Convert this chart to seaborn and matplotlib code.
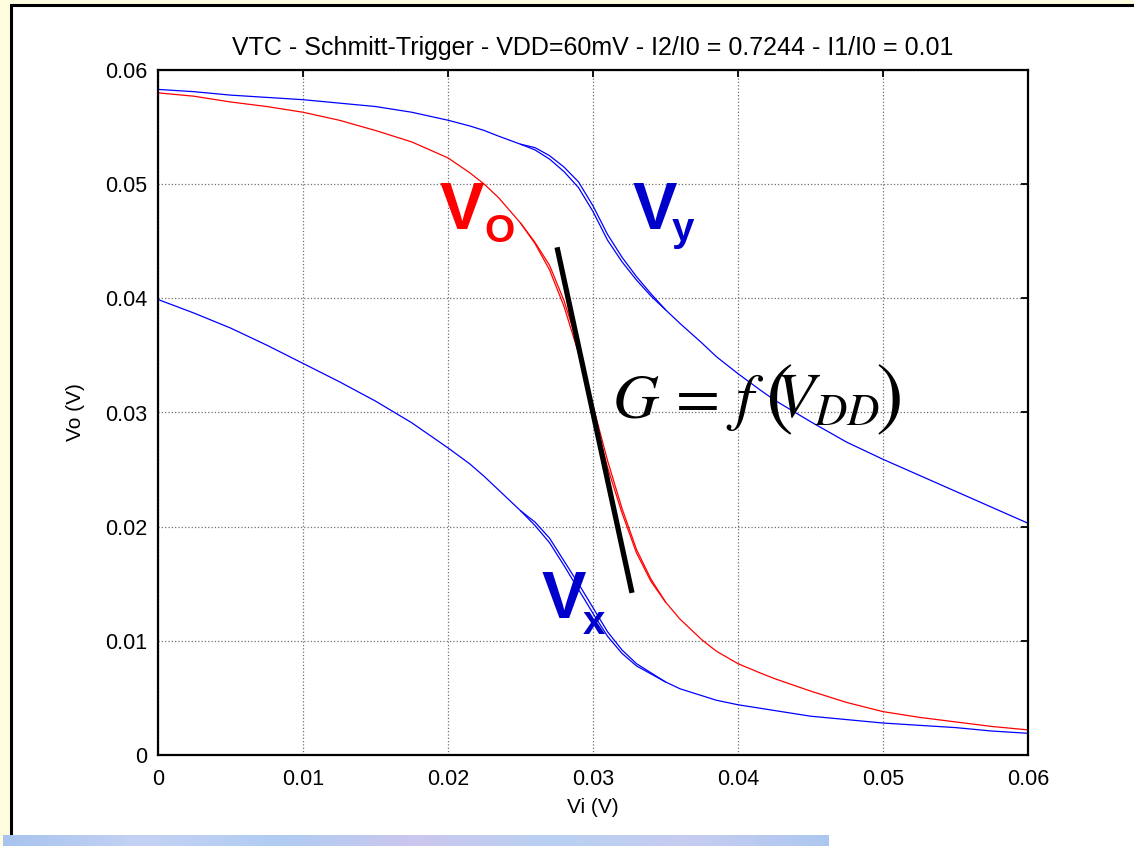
import numpy as np
import pandas as pd
import seaborn as sns
import matplotlib
matplotlib.use("Agg")
import matplotlib.pyplot as plt
from matplotlib.patches import Rectangle
from matplotlib.colors import LinearSegmentedColormap

# ---- data: input sweep and the three node voltages (V) ----
vi = [0, 0.0025, 0.005, 0.0075, 0.01, 0.0125, 0.015, 0.0175, 0.02, 0.0215,
      0.0225, 0.0235, 0.025, 0.026, 0.027, 0.028, 0.029, 0.030, 0.031, 0.032,
      0.033, 0.034, 0.035, 0.036, 0.0375, 0.0385, 0.04, 0.0415, 0.0425, 0.045,
      0.0475, 0.05, 0.0525, 0.055, 0.0575, 0.06]

vo = [0.0580, 0.0577, 0.0572, 0.0568, 0.0563, 0.0556, 0.0547, 0.0537, 0.0523, 0.0510,
      0.0500, 0.0488, 0.0466, 0.0448, 0.0425, 0.0393, 0.0352, 0.0300, 0.0252, 0.0212,
      0.0177, 0.0152, 0.0134, 0.0119, 0.0101, 0.0091, 0.0080, 0.0072, 0.0067, 0.0056,
      0.0046, 0.0038, 0.0033, 0.0029, 0.0025, 0.0022]

vy = [0.0583, 0.0581, 0.0578, 0.0576, 0.0574, 0.0571, 0.0568, 0.0563, 0.0556, 0.0551,
      0.0547, 0.0542, 0.0535, 0.0530, 0.0522, 0.0511, 0.0497, 0.0476, 0.0451, 0.0432,
      0.0416, 0.0402, 0.0390, 0.0378, 0.0361, 0.0349, 0.0334, 0.0320, 0.0311, 0.0292,
      0.0274, 0.0259, 0.0245, 0.0231, 0.0217, 0.0203]

vx = [0.0399, 0.0387, 0.0374, 0.0359, 0.0343, 0.0327, 0.0310, 0.0291, 0.0269, 0.0255,
      0.0244, 0.0232, 0.0214, 0.0201, 0.0186, 0.0166, 0.0145, 0.0124, 0.0104, 0.0089,
      0.0078, 0.0071, 0.0064, 0.0058, 0.0052, 0.0048, 0.0044, 0.0041, 0.0039, 0.0034,
      0.0031, 0.0028, 0.0026, 0.0024, 0.0021, 0.0019]

# reverse sweep, only where it separates from the forward one
vi_back = [0.025, 0.026, 0.027, 0.028, 0.029, 0.030, 0.031, 0.032, 0.033, 0.034, 0.035]
vo_back = [0.0466, 0.0449, 0.0429, 0.0398, 0.0358, 0.0306, 0.0258, 0.0216, 0.0180, 0.0154, 0.0134]
vy_back = [0.0535, 0.0532, 0.0525, 0.0515, 0.0502, 0.0481, 0.0456, 0.0436, 0.0419, 0.0404, 0.0390]
vx_back = [0.0214, 0.0204, 0.0190, 0.0170, 0.0150, 0.0129, 0.0108, 0.0092, 0.0080, 0.0072, 0.0064]

# tangent at the switching point (gain)
gain_x = [0.02752, 0.03269]
gain_y = [0.04447, 0.0142]

x_ticks = [0, 0.01, 0.02, 0.03, 0.04, 0.05, 0.06]
y_ticks = [0, 0.01, 0.02, 0.03, 0.04, 0.05, 0.06]
tick_labels = ["0", "0.01", "0.02", "0.03", "0.04", "0.05", "0.06"]

title = "VTC - Schmitt-Trigger - VDD=60mV - I2/I0 = 0.7244 - I1/I0 = 0.01"

# ---- style ----
sns.set_theme(style="white")
plt.rcParams["font.family"] = ["Liberation Sans", "DejaVu Sans"]
plt.rcParams["mathtext.fontset"] = "stix"

W, H = 1134, 846
fig = plt.figure(figsize=(W / 100, H / 100), dpi=100)
fig.patch.set_facecolor("#FFFDE0")

# white slide panel with black frame, kept behind everything else
panel = Rectangle((11 / W, -0.05), 1.05, (846 - 5) / H + 0.05,
                  transform=fig.transFigure, facecolor="white",
                  edgecolor="black", linewidth=2.2, zorder=-10)
fig.patches.append(panel)

# blue strip along the bottom
strip = fig.add_axes([3 / W, 0, 825 / W, 11 / H], zorder=5)
strip_cmap = LinearSegmentedColormap.from_list(
    "strip", ["#A8C4EE", "#C4D2F4", "#B0CCF2", "#CBC6EE", "#B8D0F2", "#C6CCF0", "#ADC8F0"])
strip.imshow(np.linspace(0, 1, 200)[None, :], aspect="auto", cmap=strip_cmap)
strip.set_axis_off()

ax = fig.add_axes([158 / W, (H - 755) / H, 870 / W, 685 / H], zorder=1)
ax.set_facecolor("white")

forward = pd.DataFrame({"Vi": vi, "Vo": vo, "Vy": vy, "Vx": vx})
backward = pd.DataFrame({"Vi": vi_back, "Vo": vo_back, "Vy": vy_back, "Vx": vx_back})

line_kw = dict(estimator=None, sort=False, linewidth=0.9, ax=ax)
for df in (forward, backward):
    sns.lineplot(data=df, x="Vi", y="Vy", color="#0000FF", **line_kw)
    sns.lineplot(data=df, x="Vi", y="Vx", color="#0000FF", **line_kw)
    sns.lineplot(data=df, x="Vi", y="Vo", color="#FF0000", **line_kw)

ax.plot(gain_x, gain_y, color="black", linewidth=3.8, solid_capstyle="butt")

# curve labels
ax.text(0.01945, 0.0461, "V", color="#FF0000", fontsize=48, fontweight="bold")
ax.text(0.0225, 0.0449, "O", color="#FF0000", fontsize=28, fontweight="bold")
ax.text(0.0327, 0.0461, "V", color="#0000CC", fontsize=48, fontweight="bold")
ax.text(0.0354, 0.0450, "y", color="#0000CC", fontsize=29, fontweight="bold")
ax.text(0.02648, 0.0120, "V", color="#0000CC", fontsize=48, fontweight="bold")
ax.text(0.0293, 0.0106, "x", color="#0000CC", fontsize=29, fontweight="bold")

# gain expression, with tall brackets
ax.text(0.03131, 0.02952, r"$G\,=\,f$", color="black", fontsize=46)
ax.text(0.04186, 0.0293, r"$($", color="black", fontsize=60)
ax.text(0.04255, 0.02952, r"$V_{DD}$", color="black", fontsize=46)
ax.text(0.04945, 0.0293, r"$)$", color="black", fontsize=60)

ax.set_xlim(0, 0.06)
ax.set_ylim(0, 0.06)
ax.set_xticks(x_ticks)
ax.set_yticks(y_ticks)
ax.set_xticklabels(tick_labels)
ax.set_yticklabels(tick_labels)
ax.tick_params(direction="in", length=5, width=1.3, top=True, right=True,
               labelsize=15.5, colors="black", pad=8)
ax.tick_params(axis="x", pad=10)
ax.grid(True, linestyle=":", color="#707070", linewidth=0.9)
for s in ax.spines.values():
    s.set_color("black")
    s.set_linewidth(1.6)

ax.set_xlabel("Vi (V)", fontsize=15, color="black", labelpad=6)
ax.set_ylabel("Vo (V)", fontsize=15, color="black", labelpad=14)
ax.set_title(title, fontsize=18, color="black", pad=11)

fig.savefig("out.png", dpi=100, facecolor=fig.get_facecolor())
